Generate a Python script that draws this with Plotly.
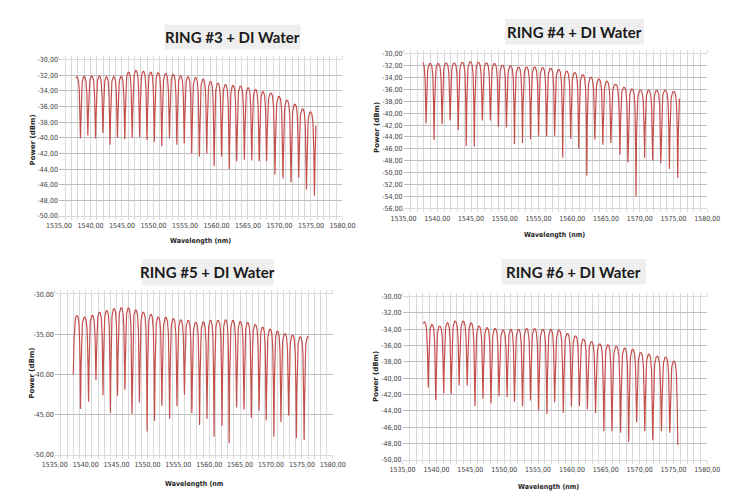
import numpy as np
import plotly.graph_objects as go

# ---- data (wavelength in nm, power in dBm) ----
# dip lists carry one unseen neighbour dip at the start (and at the end where
# the trace stops on a rising edge); peaks are the arch tops between dips

r3_dip_wl = [1537.24, 1538.42, 1539.59, 1540.82, 1541.99, 1543.11, 1544.29, 1545.46, 1546.63,
             1547.81, 1548.98, 1550.15, 1551.33, 1552.55, 1553.72, 1554.90, 1556.07, 1557.30,
             1558.47, 1559.64, 1560.82, 1562.04, 1563.21, 1564.44, 1565.61, 1566.79, 1567.96,
             1569.29, 1570.56, 1571.84, 1573.06, 1574.29, 1575.56, 1576.76]
r3_dip_db = [-40.0, -40.1, -39.7, -40.1, -39.4, -40.9, -40.0, -40.2, -40.0, -39.9, -40.3, -40.5,
             -41.1, -40.1, -40.9, -40.7, -42.0, -42.4, -42.0, -43.6, -42.4, -44.0, -43.0, -42.8,
             -42.9, -43.0, -43.0, -44.7, -45.2, -45.7, -45.1, -46.6, -47.4, -47.0]
r3_peak_db = [-32.2, -32.15, -32.1, -32.1, -32.2, -32.2, -32.15, -31.6, -31.4, -31.5, -31.6,
              -31.7, -31.8, -31.9, -32.1, -32.2, -32.3, -32.5, -32.8, -33.0, -33.2, -33.3, -33.4,
              -33.6, -33.8, -34.1, -34.3, -34.7, -35.2, -35.7, -36.3, -36.7, -37.0]
r3_span = [1537.66, 1575.80]

r4_dip_wl = [1537.14, 1538.33, 1539.52, 1540.71, 1541.90, 1543.10, 1544.29, 1545.48, 1546.67,
             1547.86, 1549.05, 1550.24, 1551.43, 1552.62, 1553.81, 1555.00, 1556.19, 1557.38,
             1558.57, 1559.76, 1560.95, 1562.14, 1563.33, 1564.52, 1565.71, 1567.05, 1568.24,
             1569.43, 1570.71, 1571.90, 1573.10, 1574.38, 1575.62, 1576.82]
r4_dip_db = [-42.0, -41.7, -44.5, -41.8, -41.2, -42.8, -45.5, -45.6, -41.2, -41.2, -42.3, -42.4,
             -45.2, -45.0, -44.4, -43.8, -43.9, -43.8, -47.5, -44.3, -46.0, -50.5, -44.4, -45.3,
             -45.0, -47.0, -48.3, -54.0, -47.5, -48.0, -48.4, -49.4, -50.9, -48.0]
r4_peak_db = [-31.3, -31.6, -31.6, -31.5, -31.5, -31.4, -31.3, -31.4, -31.5, -31.6, -31.9, -32.0,
              -32.2, -32.2, -32.2, -32.3, -32.4, -32.6, -32.9, -33.1, -33.5, -33.9, -34.2, -34.6,
              -35.1, -35.6, -35.9, -36.1, -36.1, -36.1, -36.1, -36.3, -36.3]
r4_span = [1537.86, 1575.88]

r5_dip_wl = [1538.00, 1539.17, 1540.47, 1541.67, 1542.81, 1544.01, 1545.16, 1546.35, 1547.50,
             1548.70, 1549.95, 1551.15, 1552.34, 1553.59, 1554.79, 1555.99, 1557.19, 1558.44,
             1559.64, 1560.78, 1562.08, 1563.23, 1564.43, 1565.63, 1566.82, 1568.07, 1569.22,
             1570.47, 1571.61, 1572.86, 1574.11, 1575.36, 1576.57]
r5_dip_db = [-40.0, -44.3, -43.4, -40.7, -42.6, -44.8, -42.65, -41.9, -44.9, -43.5, -47.1, -45.8,
             -43.9, -45.5, -43.95, -42.55, -44.8, -46.3, -45.5, -47.75, -46.4, -48.55, -44.1,
             -44.35, -45.4, -44.5, -45.7, -47.75, -45.9, -45.1, -47.9, -48.15, -47.0]
r5_peak_db = [-32.65, -32.85, -32.65, -32.25, -32.05, -31.8, -31.7, -31.7, -31.95, -32.25, -32.5,
              -32.85, -32.9, -33.05, -33.2, -33.25, -33.5, -33.45, -33.25, -33.25, -33.2, -33.25,
              -33.4, -33.55, -33.8, -34.1, -34.35, -34.6, -34.9, -35.1, -35.3, -35.3]
r5_span = [1538.00, 1576.10]

r6_dip_wl = [1537.60, 1538.79, 1539.89, 1541.07, 1542.17, 1543.35, 1544.54, 1545.68, 1546.87,
             1548.05, 1549.24, 1550.43, 1551.52, 1552.71, 1553.89, 1555.08, 1556.31, 1557.45,
             1558.73, 1559.93, 1561.11, 1562.29, 1563.49, 1564.72, 1565.91, 1567.19, 1568.38,
             1569.56, 1570.76, 1571.94, 1573.22, 1574.46, 1575.64]
r6_dip_db = [-41.0, -41.15, -42.7, -41.85, -41.95, -40.9, -40.9, -43.4, -42.5, -43.1, -42.2,
             -42.35, -42.9, -43.45, -42.75, -43.95, -44.4, -42.95, -44.25, -43.45, -43.45, -43.8,
             -44.3, -46.5, -46.5, -46.7, -47.8, -45.4, -46.5, -47.6, -46.5, -46.7, -48.2]
r6_peak_db = [-33.1, -33.4, -33.6, -33.2, -33.0, -33.0, -33.2, -33.6, -33.8, -33.9, -34.1, -34.0,
              -34.0, -33.9, -33.9, -34.0, -34.0, -34.1, -34.5, -34.8, -35.2, -35.5, -35.8, -35.9,
              -36.1, -36.3, -36.45, -36.85, -37.05, -37.3, -37.4, -37.9]
r6_span = [1538.00, 1575.64]

titles = ["RING #3 + DI Water", "RING #4 + DI Water", "RING #5 + DI Water", "RING #6 + DI Water"]
x_titles = ["Wavelength (nm)", "Wavelength (nm)", "Wavelength (nm", "Wavelength (nm)"]
y_title = "Power (dBm)"

x_tick_vals = [1535, 1540, 1545, 1550, 1555, 1560, 1565, 1570, 1575, 1580]
x_tick_text = ["1535,00", "1540,00", "1545,00", "1550,00", "1555,00",
               "1560,00", "1565,00", "1570,00", "1575,00", "1580,00"]
y_ticks_2 = [-30, -32, -34, -36, -38, -40, -42, -44, -46, -48, -50]
y_ticks_2_deep = [-30, -32, -34, -36, -38, -40, -42, -44, -46, -48, -50, -52, -54, -56]
y_ticks_5 = [-30, -35, -40, -45, -50]
y_tick_sets = [y_ticks_2, y_ticks_2_deep, y_ticks_5, y_ticks_2]

W, H = 730, 500
RED = "#c4504d"
TICKFONT = "Liberation Sans Narrow, Arial Narrow, DejaVu Sans Condensed, sans-serif"
F = 4.0  # ring finesse coefficient for the line shape


def ring_line(dip_wl, dip_db, peak_db, span, n=48):
    # all-pass ring response between consecutive dips, scaled to the read levels
    xs, ys = [], []
    for i, pk in enumerate(peak_db):
        t = np.linspace(0, 1, n, endpoint=False)
        x = dip_wl[i] + (dip_wl[i + 1] - dip_wl[i]) * t
        depth = np.where(t < 0.5, pk - dip_db[i], pk - dip_db[i + 1])
        r = 10 ** (-depth / 10)
        A = (1 - r) / (1 - r / (1 + F))
        T = 1 - A / (1 + F * np.sin(np.pi * t) ** 2)
        Tp = 1 - A / (1 + F)
        xs.append(x)
        ys.append(pk + 10 * np.log10(T / Tp))
    xs.append([dip_wl[-1]])
    ys.append([dip_db[-1]])
    x = np.concatenate(xs)
    y = np.concatenate(ys)
    keep = (x >= span[0] - 1e-9) & (x <= span[1] + 1e-9)
    return x[keep], y[keep]


def label(v):
    return ("%.2f" % v).replace(".", ",")


# plot boxes in pixels: left, top, right, bottom
boxes = [(39.3, 48.3, 333.3, 207.3), (396.7, 42.7, 711.7, 199.3),
         (35.0, 286.7, 323.3, 450.0), (395.7, 289.3, 711.7, 455.0)]
title_boxes = [(149, 13, 290, 38), (502, 7, 646, 33), (125, 251, 262, 278), (498, 251, 648, 277)]
xtitle_pos = [(186, 233), (553, 227), (180, 480), (547, 483)]
ytitle_pos = [(12, 130), (369, 117), (12, 367), (368, 370)]

series = [(r3_dip_wl, r3_dip_db, r3_peak_db, r3_span),
          (r4_dip_wl, r4_dip_db, r4_peak_db, r4_span),
          (r5_dip_wl, r5_dip_db, r5_peak_db, r5_span),
          (r6_dip_wl, r6_dip_db, r6_peak_db, r6_span)]

fig = go.Figure()
layout = {}
shapes, annotations = [], []

for k, (dw, dd, pd_, sp) in enumerate(series):
    sfx = "" if k == 0 else str(k + 1)
    x, y = ring_line(dw, dd, pd_, sp)
    fig.add_trace(go.Scatter(x=x, y=y, mode="lines", line=dict(color=RED, width=1.2),
                             xaxis="x" + sfx, yaxis="y" + sfx, showlegend=False,
                             hoverinfo="skip"))
    l, t, r, b = boxes[k]
    yt_vals = y_tick_sets[k]
    layout["xaxis" + sfx] = dict(
        domain=[l / W, r / W], anchor="y" + sfx, range=[1535, 1580],
        tickmode="array", tickvals=x_tick_vals, ticktext=x_tick_text, tickangle=0,
        showgrid=True, gridcolor="#d9d9d9", gridwidth=1,
        minor=dict(dtick=1, showgrid=True, gridcolor="#d9d9d9", ticks="outside",
                   ticklen=3, tickcolor="#d9d9d9"),
        ticks="outside", ticklen=3, tickcolor="#d9d9d9",
        showline=True, linecolor="#d9d9d9", mirror="ticks", zeroline=False,
        tickfont=dict(family=TICKFONT, size=7, color="#404040"))
    layout["yaxis" + sfx] = dict(
        domain=[1 - b / H, 1 - t / H], anchor="x" + sfx, range=[min(yt_vals), max(yt_vals)],
        tickmode="array", tickvals=yt_vals, ticktext=[label(v) for v in yt_vals],
        showgrid=True, gridcolor="#bfbfbf", gridwidth=1, zeroline=False,
        showline=False, ticks="",
        tickfont=dict(family=TICKFONT, size=7, color="#404040"))

    bl, bt, br, bb = title_boxes[k]
    shapes.append(dict(type="rect", xref="paper", yref="paper", x0=bl / W, x1=br / W,
                       y0=1 - bb / H, y1=1 - bt / H, fillcolor="#efefef", line=dict(width=0),
                       layer="below"))
    annotations.append(dict(text="<b>%s</b>" % titles[k], xref="paper", yref="paper",
                            x=(bl + br) / 2 / W, y=1 - (bt + bb) / 2 / H, showarrow=False,
                            xanchor="center", yanchor="middle",
                            font=dict(family="Lato, Open Sans, sans-serif", size=15,
                                      color="#1a1a1a")))
    xt = xtitle_pos[k]
    annotations.append(dict(text="<b>%s</b>" % x_titles[k], xref="paper", yref="paper",
                            x=xt[0] / W, y=1 - xt[1] / H, showarrow=False,
                            xanchor="center", yanchor="middle",
                            font=dict(family=TICKFONT, size=7, color="#262626")))
    ytp = ytitle_pos[k]
    annotations.append(dict(text="<b>%s</b>" % y_title, xref="paper", yref="paper",
                            x=ytp[0] / W, y=1 - ytp[1] / H, showarrow=False, textangle=-90,
                            xanchor="center", yanchor="middle",
                            font=dict(family="DejaVu Sans, sans-serif", size=7,
                                      color="#262626")))

fig.update_layout(width=W, height=H, margin=dict(l=0, r=0, t=0, b=0),
                  paper_bgcolor="white", plot_bgcolor="white",
                  shapes=shapes, annotations=annotations, **layout)

fig.write_html("out.html")
